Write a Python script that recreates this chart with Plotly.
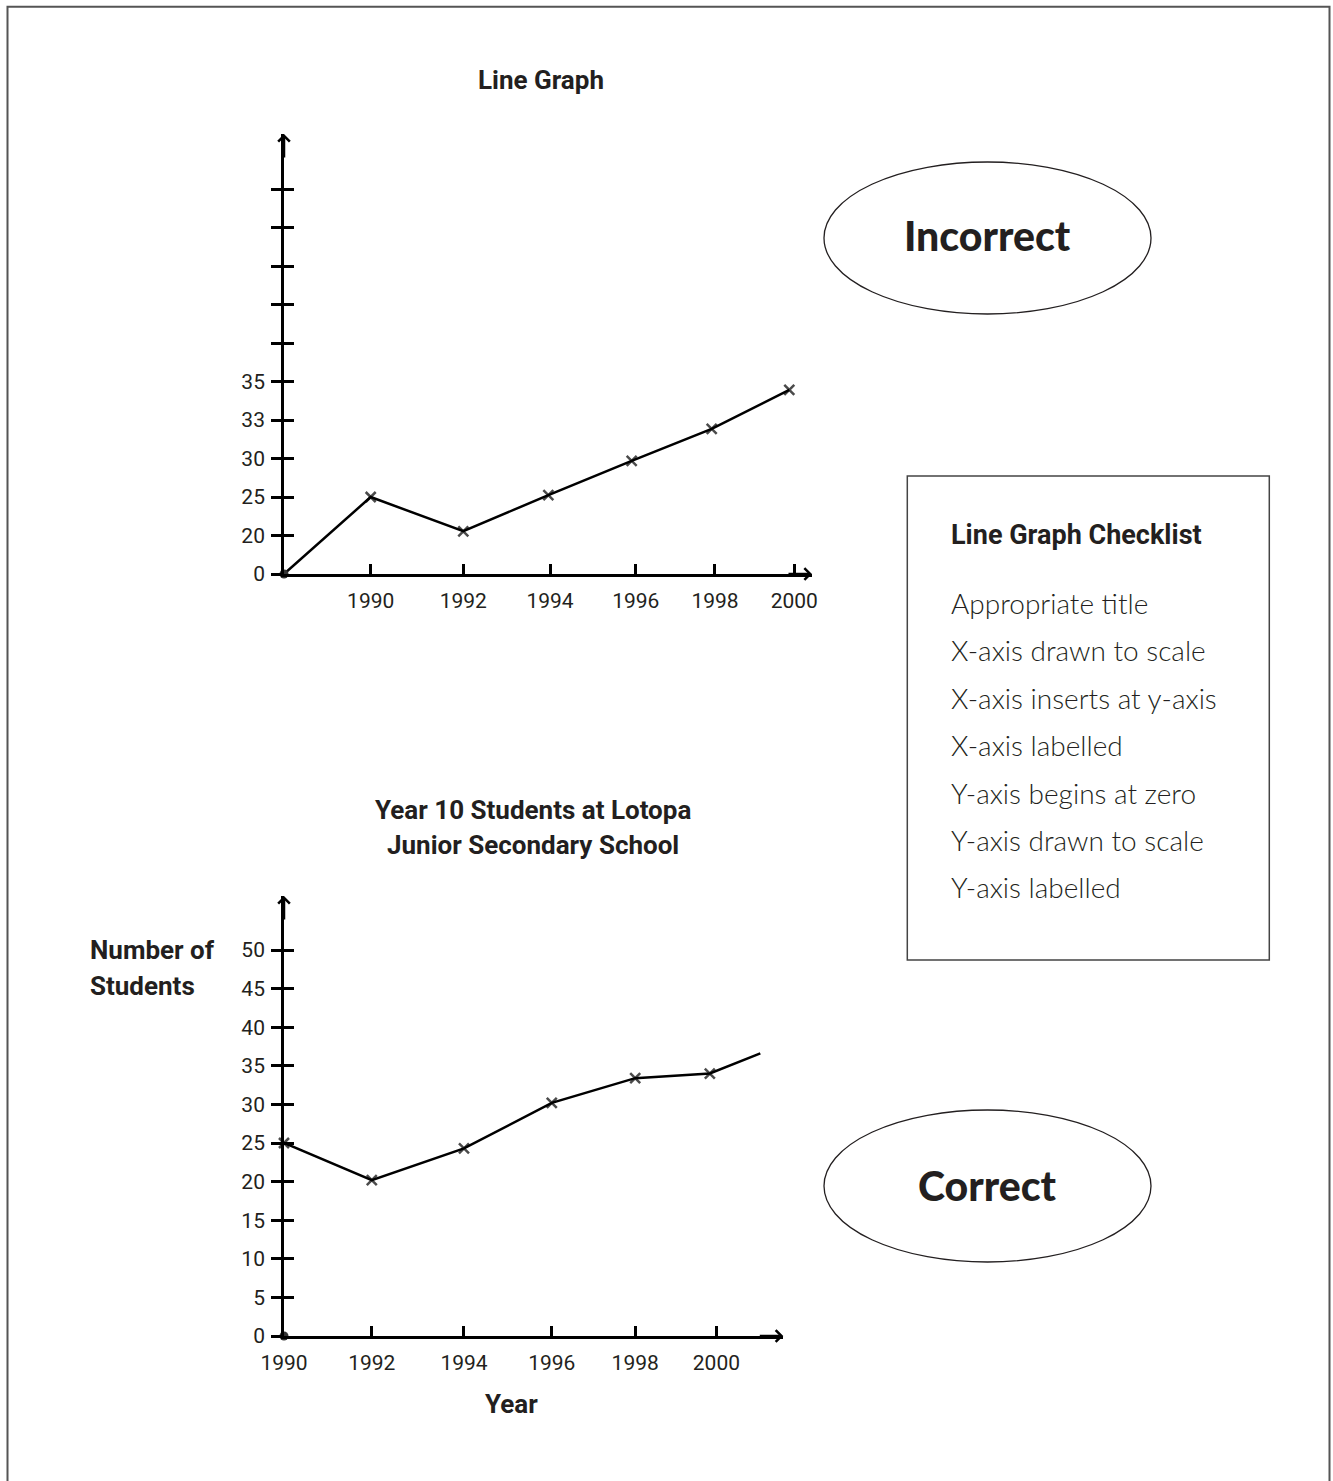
import plotly.graph_objects as go

W, H = 1333, 1481

# ---------------- data ----------------
# Top ("Incorrect") chart: positions on the drawn (unevenly scaled) axes
top_x_tickpos = [1.0, 2.068, 3.068, 4.057, 4.971, 5.886]
top_x_ticktext = ["1990", "1992", "1994", "1996", "1998", "2000"]
top_y_tickpos = [0, 1, 2, 3, 4, 5, 6, 7, 8, 9, 10]
top_y_ticktext = ["0", "20", "25", "30", "33", "35", "", "", "", "", ""]
top_x = [0, 1.0, 2.068, 3.049, 4.010, 4.933, 5.828]
top_y = [0, 2.0, 1.11, 2.05, 2.94, 3.77, 4.78]
top_marker = [0, 10, 10, 10, 10, 10, 10]

# Bottom ("Correct") chart
bot_x_tickpos = [1990, 1992, 1994.1, 1996.1, 1998, 1999.85]
bot_x_ticktext = ["1990", "1992", "1994", "1996", "1998", "2000"]
bot_y_tickvals = [0, 5, 10, 15, 20, 25, 30, 35, 40, 45, 50]
bot_x = [1990, 1992, 1994.1, 1996.1, 1998, 1999.7, 2000.85]
bot_y = [25, 20.2, 24.3, 30.2, 33.4, 34.0, 36.6]
bot_marker = [10, 10, 10, 10, 10, 10, 0]

checklist_items = [
    "Appropriate title",
    "X-axis drawn to scale",
    "X-axis inserts at y-axis",
    "X-axis labelled",
    "Y-axis begins at zero",
    "Y-axis drawn to scale",
    "Y-axis labelled",
]

TXT = "#231f20"
TICKFONT = dict(family="Roboto", size=21, color=TXT)
BOLD = "Roboto"


def px(x):
    return x / W


def py(y):
    return 1 - y / H


fig = go.Figure()

# top chart line
fig.add_trace(go.Scatter(
    x=top_x, y=top_y, mode="lines+markers", xaxis="x", yaxis="y",
    line=dict(color="black", width=2.5),
    marker=dict(symbol="x-thin", size=top_marker, line=dict(color="black", width=2.5)),
    cliponaxis=False, showlegend=False, hoverinfo="skip"))
# top origin dot (on overlay axis so that axis gets drawn)
fig.add_trace(go.Scatter(
    x=[top_x[0]], y=[top_y[0]], mode="markers", xaxis="x", yaxis="y3",
    marker=dict(symbol="circle", size=9, color="#333333"),
    cliponaxis=False, showlegend=False, hoverinfo="skip"))

# bottom chart line
fig.add_trace(go.Scatter(
    x=bot_x, y=bot_y, mode="lines+markers", xaxis="x2", yaxis="y2",
    line=dict(color="black", width=2.5),
    marker=dict(symbol="x-thin", size=bot_marker, line=dict(color="black", width=2.5)),
    cliponaxis=False, showlegend=False, hoverinfo="skip"))
fig.add_trace(go.Scatter(
    x=[bot_x_tickpos[0]], y=[bot_y_tickvals[0]], mode="markers", xaxis="x2", yaxis="y4",
    marker=dict(symbol="circle", size=9, color="#333333"),
    cliponaxis=False, showlegend=False, hoverinfo="skip"))

top_xdom = [px(284), px(812)]
top_ydom = [py(574), py(134)]
bot_xdom = [px(284), px(783.3)]
bot_ydom = [py(1336), py(896)]

top_yrange = [0, 440 / 38.5]
bot_yrange = [0, 440 / 7.72]

xcommon = dict(showline=True, linecolor="black", linewidth=2.7, ticks="inside",
               ticklen=10, tickwidth=2.5, tickcolor="black", showgrid=False,
               zeroline=False, tickfont=TICKFONT, ticklabelstandoff=6,
               fixedrange=True, automargin=False)
ycommon = dict(showline=True, linecolor="black", linewidth=2.7, ticks="outside",
               ticklen=10, tickwidth=2.5, tickcolor="black", showgrid=False,
               zeroline=False, tickfont=TICKFONT, ticklabelstandoff=2,
               fixedrange=True, automargin=False)

fig.update_layout(
    width=W, height=H,
    margin=dict(l=0, r=0, t=0, b=0, pad=0, autoexpand=False),
    paper_bgcolor="white", plot_bgcolor="rgba(0,0,0,0)",
    xaxis=dict(domain=top_xdom, anchor="y", range=[0, 528 / 86.7],
               tickmode="array", tickvals=top_x_tickpos, ticktext=top_x_ticktext, **xcommon),
    yaxis=dict(domain=top_ydom, anchor="x", range=top_yrange,
               tickmode="array", tickvals=top_y_tickpos, ticktext=top_y_ticktext, **ycommon),
    yaxis3=dict(overlaying="y", anchor="x", range=top_yrange, showline=False,
                ticks="inside", ticklen=10, tickwidth=2.5, tickcolor="black",
                tickmode="array", tickvals=top_y_tickpos, showticklabels=False,
                showgrid=False, zeroline=False, fixedrange=True, automargin=False),
    xaxis2=dict(domain=bot_xdom, anchor="y2", range=[1990, 1990 + 499.3 / 43.9],
                tickmode="array", tickvals=bot_x_tickpos, ticktext=bot_x_ticktext, **xcommon),
    yaxis2=dict(domain=bot_ydom, anchor="x2", range=bot_yrange,
                tickmode="array", tickvals=bot_y_tickvals, **ycommon),
    yaxis4=dict(overlaying="y2", anchor="x2", range=bot_yrange, showline=False,
                ticks="inside", ticklen=10, tickwidth=2.5, tickcolor="black",
                tickmode="array", tickvals=bot_y_tickvals, showticklabels=False,
                showgrid=False, zeroline=False, fixedrange=True, automargin=False),
)

# axis arrows
for xr, yr in [("x", "y"), ("x2", "y2")]:
    fig.add_annotation(xref=f"{xr} domain", yref=f"{yr} domain", x=1, y=0, ax=-25, ay=0,
                       text="", showarrow=True, arrowhead=4, arrowsize=0.9,
                       arrowwidth=2.5, arrowcolor="black", standoff=0)
    fig.add_annotation(xref=f"{xr} domain", yref=f"{yr} domain", x=0, y=1, ax=0, ay=25,
                       text="", showarrow=True, arrowhead=4, arrowsize=0.9,
                       arrowwidth=2.5, arrowcolor="black", standoff=0)

# frame (open at bottom)
fig.add_shape(type="path", xref="paper", yref="paper",
              path=f"M {px(7.5)},{py(1490)} L {px(7.5)},{py(6.7)} L {px(1329.5)},{py(6.7)} L {px(1329.5)},{py(1490)}",
              line=dict(color="#555555", width=2))

# ellipses
for yc in [238, 1186]:
    fig.add_shape(type="circle", xref="paper", yref="paper",
                  x0=px(824), x1=px(1151), y0=py(yc + 76), y1=py(yc - 76),
                  line=dict(color=TXT, width=1.3))

# checklist box
fig.add_shape(type="rect", xref="paper", yref="paper",
              x0=px(907.3), x1=px(1269.3), y0=py(960), y1=py(476),
              line=dict(color="#444444", width=1.5))


def label(text, x, y, size=26, family=BOLD, weight="bold", xanchor="center", color=TXT):
    fig.add_annotation(xref="paper", yref="paper", x=px(x), y=py(y), text=text,
                       showarrow=False, xanchor=xanchor, yanchor="middle",
                       font=dict(family=family, size=size, color=color, weight=weight))


label("Line Graph", 541, 80)
label("Year 10 Students at Lotopa", 533, 810)
label("Junior Secondary School", 533, 845)
label("Number of", 88, 950, xanchor="left")
label("Students", 88, 986, xanchor="left")
label("Year", 511, 1404)
label("Incorrect", 987, 236, size=41, family="Lato", weight=900)
label("Correct", 987, 1185, size=41, family="Lato", weight=900)
label("Line Graph Checklist", 949, 535, size=27, xanchor="left")
for i, item in enumerate(checklist_items):
    label(item, 949, 603 + i * 47.4, size=28, family="Lato", weight=300, xanchor="left")

fig.write_html("out.html", config={"displayModeBar": False},
               post_script="document.body.style.margin='0';document.body.style.overflow='hidden';")
